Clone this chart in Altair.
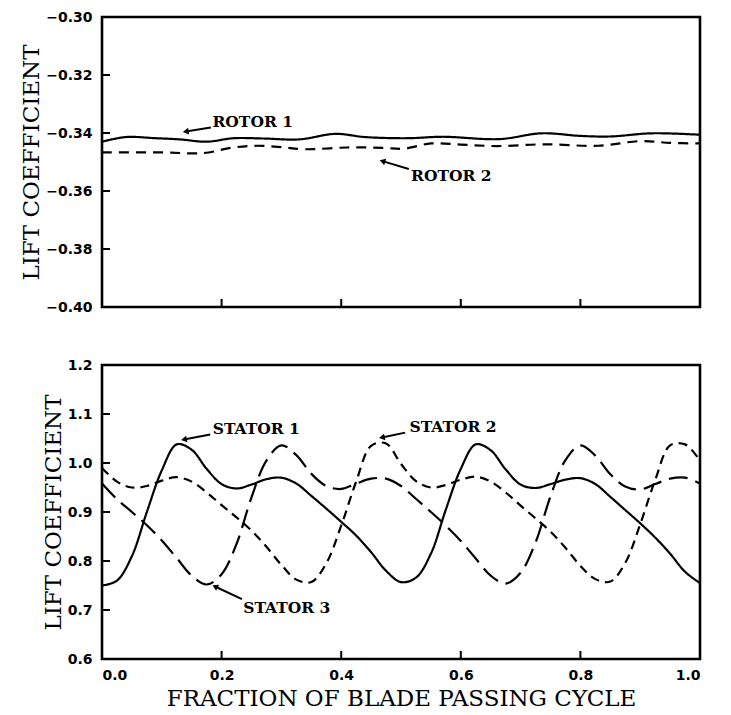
import altair as alt
import pandas as pd

# ---------------- data ----------------
# top panel: rotors
rotor1_x = [0.0, 0.04, 0.09, 0.13, 0.175, 0.22, 0.27, 0.33, 0.39, 0.44, 0.51, 0.57, 0.665, 0.735, 0.80, 0.85, 0.92, 1.0]
rotor1_y = [-0.3430, -0.3414, -0.3418, -0.3422, -0.3430, -0.3418, -0.3419, -0.3422, -0.3403, -0.3414,
            -0.3418, -0.3413, -0.3421, -0.3401, -0.3410, -0.3412, -0.3401, -0.3406]
rotor2_x = [0.0, 0.10, 0.17, 0.22, 0.26, 0.30, 0.34, 0.41, 0.47, 0.505, 0.55, 0.60, 0.66, 0.74, 0.83, 0.90, 0.95, 1.0]
rotor2_y = [-0.3467, -0.3467, -0.3469, -0.3450, -0.3444, -0.3449, -0.3456, -0.3450, -0.3451, -0.3454,
            -0.3436, -0.3440, -0.3445, -0.3439, -0.3444, -0.3428, -0.3434, -0.3436]

# bottom panel: stators
stator_x = [0.000, 0.025, 0.050, 0.075, 0.100, 0.125, 0.150, 0.175, 0.200, 0.225,
            0.250, 0.275, 0.300, 0.325, 0.350, 0.375, 0.400, 0.425, 0.450, 0.475,
            0.500, 0.525, 0.550, 0.575, 0.600, 0.625, 0.650, 0.675, 0.700, 0.725,
            0.750, 0.775, 0.800, 0.825, 0.850, 0.875, 0.900, 0.925, 0.950, 0.975, 1.000]
stator1_y = [0.750, 0.760, 0.810, 0.900, 0.985, 1.038, 1.027, 0.988, 0.957, 0.948,
             0.956, 0.967, 0.970, 0.958, 0.933, 0.907, 0.880, 0.852, 0.818, 0.780,
             0.757, 0.766, 0.815, 0.905, 0.988, 1.038, 1.026, 0.987, 0.956, 0.949,
             0.957, 0.966, 0.969, 0.957, 0.931, 0.904, 0.877, 0.848, 0.815, 0.778, 0.755]
stator2_y = [0.990, 0.962, 0.950, 0.953, 0.964, 0.971, 0.962, 0.940, 0.914, 0.889,
             0.862, 0.829, 0.792, 0.762, 0.757, 0.795, 0.872, 0.962, 1.035, 1.040,
             0.998, 0.963, 0.950, 0.955, 0.966, 0.972, 0.962, 0.940, 0.913, 0.887,
             0.860, 0.827, 0.790, 0.763, 0.758, 0.796, 0.875, 0.965, 1.036, 1.038, 1.005]
stator3_y = [0.958, 0.926, 0.900, 0.873, 0.842, 0.806, 0.770, 0.752, 0.773, 0.835,
             0.930, 1.005, 1.036, 1.016, 0.978, 0.953, 0.947, 0.958, 0.968, 0.968,
             0.953, 0.927, 0.900, 0.872, 0.841, 0.805, 0.770, 0.754, 0.776, 0.838,
             0.932, 1.006, 1.036, 1.015, 0.977, 0.952, 0.946, 0.957, 0.968, 0.970, 0.958]

# axes
top_y_ticks = [-0.40, -0.38, -0.36, -0.34, -0.32, -0.30]
top_inner_y_ticks = [-0.38, -0.36, -0.34, -0.32]
bot_y_ticks = [0.6, 0.7, 0.8, 0.9, 1.0, 1.1, 1.2]
bot_inner_y_ticks = [0.7, 0.8, 0.9, 1.0, 1.1]
x_ticks = [0.0, 0.2, 0.4, 0.6, 0.8, 1.0]
inner_x_ticks = [0.2, 0.4, 0.6, 0.8]

# annotations: label position, arrow start, arrow tip, arrowhead angle
top_labels = ["ROTOR  1", "ROTOR  2"]
top_lab_x = [0.252, 0.584]
top_lab_y = [-0.3361, -0.3548]
top_arr_x0 = [0.182, 0.513]
top_arr_y0 = [-0.3381, -0.3524]
top_arr_x1 = [0.140, 0.469]
top_arr_y1 = [-0.3395, -0.3497]
top_arr_angle = [351, 17]

bot_labels = ["STATOR  1", "STATOR  2", "STATOR  3"]
bot_lab_x = [0.258, 0.587, 0.309]
bot_lab_y = [1.069, 1.073, 0.705]
bot_arr_x0 = [0.181, 0.507, 0.234]
bot_arr_y0 = [1.058, 1.062, 0.722]
bot_arr_x1 = [0.137, 0.468, 0.189]
bot_arr_y1 = [1.048, 1.052, 0.748]
bot_arr_angle = [349, 348, 26]

# ---------------- frames ----------------
W = 598
H_TOP = 290
H_BOT = 294

top_series = [
    (pd.DataFrame({"x": rotor1_x, "v": rotor1_y}), [1, 0]),
    (pd.DataFrame({"x": rotor2_x, "v": rotor2_y}), [10, 7]),
]
bot_series = [
    (pd.DataFrame({"x": stator_x, "v": stator1_y}), [1, 0]),
    (pd.DataFrame({"x": stator_x, "v": stator2_y}), [9, 6]),
    (pd.DataFrame({"x": stator_x, "v": stator3_y}), [19, 8]),
]

top_ann = pd.DataFrame({"label": top_labels, "x": top_lab_x, "v": top_lab_y,
                        "ax0": top_arr_x0, "ay0": top_arr_y0, "ax1": top_arr_x1, "ay1": top_arr_y1,
                        "ang": top_arr_angle})
bot_ann = pd.DataFrame({"label": bot_labels, "x": bot_lab_x, "v": bot_lab_y,
                        "ax0": bot_arr_x0, "ay0": bot_arr_y0, "ax1": bot_arr_x1, "ay1": bot_arr_y1,
                        "ang": bot_arr_angle})

TEXT_FONT = "DejaVu Serif"


def panel(series, ann, ydom, yticks, yfmt, inner_y, height, show_x):
    if show_x:
        xaxis = alt.Axis(values=x_ticks, format=".1f", title="FRACTION OF BLADE PASSING CYCLE",
                         titlePadding=5, labelPadding=9)
    else:
        xaxis = None
    xs = alt.Scale(domain=[0, 1], nice=False, zero=False)
    ys = alt.Scale(domain=ydom, nice=False, zero=False)
    X = alt.X("x:Q", scale=xs, axis=xaxis)
    Y = alt.Y("v:Q", scale=ys,
              axis=alt.Axis(values=yticks, format=yfmt, title="LIFT COEFFICIENT",
                            titlePadding=2, labelPadding=10))

    layers = []
    for df, dash in series:
        layers.append(
            alt.Chart(df).mark_line(color="black", strokeWidth=2.2, interpolate="catmull-rom",
                                    strokeDash=dash).encode(x=X, y=Y)
        )
    yt = alt.Chart(pd.DataFrame({"v": inner_y})).mark_rule(color="black", strokeWidth=2).encode(
        y=Y, x=alt.value(0), x2=alt.value(8))
    xt = alt.Chart(pd.DataFrame({"x": inner_x_ticks})).mark_rule(color="black", strokeWidth=2).encode(
        x=X, y=alt.value(height), y2=alt.value(height - 8))
    arr = alt.Chart(ann).mark_rule(color="black", strokeWidth=2).encode(
        x=alt.X("ax0:Q", scale=xs, axis=xaxis),
        y=alt.Y("ay0:Q", scale=ys),
        x2="ax1:Q", y2="ay1:Q")
    head = alt.Chart(ann).mark_point(shape="triangle-left", filled=True, color="black", size=45, opacity=1).encode(
        x=alt.X("ax1:Q", scale=xs, axis=xaxis),
        y=alt.Y("ay1:Q", scale=ys),
        angle=alt.Angle("ang:Q", scale=None))
    txt = alt.Chart(ann).mark_text(font=TEXT_FONT, fontWeight="bold", fontSize=15.5, color="black",
                                   align="center", baseline="middle").encode(
        x=X, y=Y, text="label:N")
    layers += [yt, xt, arr, head, txt]
    return alt.layer(*layers).properties(width=W, height=height)


top = panel(top_series, top_ann, [-0.40, -0.30], top_y_ticks, ".2f", top_inner_y_ticks, H_TOP, False)
bottom = panel(bot_series, bot_ann, [0.6, 1.2], bot_y_ticks, ".1f", bot_inner_y_ticks, H_BOT, True)

chart = alt.vconcat(top, bottom, spacing=58, bounds="flush").properties(
    padding={"left": 11, "top": 0, "right": 5, "bottom": 0}
).configure_view(
    stroke="black", strokeWidth=2.6
).configure_axis(
    labelFont="DejaVu Sans", labelFontWeight="bold", labelFontSize=14, labelColor="black",
    titleFont=TEXT_FONT, titleFontSize=23, titleFontWeight="normal", titleColor="black",
    domain=False, ticks=False, grid=False
)

chart.save("out.html", embed_options={"renderer": "svg", "actions": False})
